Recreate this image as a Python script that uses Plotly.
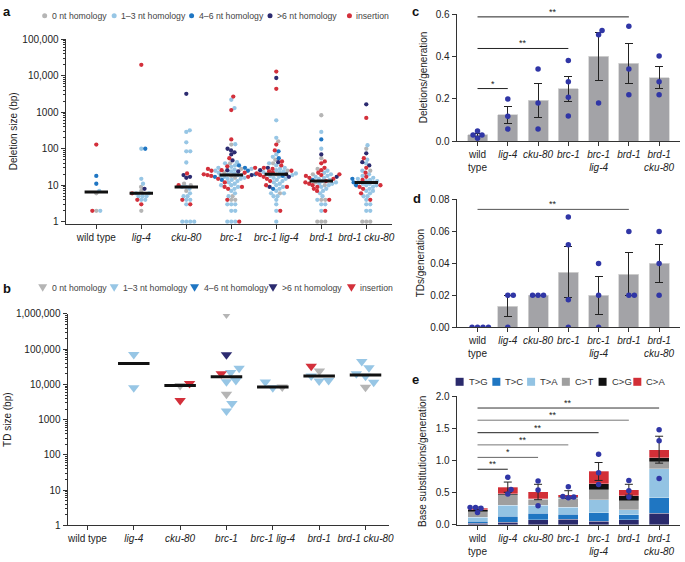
import numpy as np
import plotly.graph_objects as go

W, H = 685, 562
FONT = "Liberation Sans, Arial, Helvetica, sans-serif"

# ---------------- data ----------------
genotypes = ["wild type", "lig-4", "cku-80", "brc-1", "brc-1 lig-4", "brd-1", "brd-1 cku-80"]
labels_ab = ["wild type", "<i>lig-4</i>", "<i>cku-80</i>", "<i>brc-1</i>",
             "<i>brc-1 lig-4</i>", "<i>brd-1</i>", "<i>brd-1 cku-80</i>"]
labels_cde = ["wild<br>type", "<i>lig-4</i>", "<i>cku-80</i>", "<i>brc-1</i>",
              "<i>brc-1<br>lig-4</i>", "<i>brd-1</i>", "<i>brd-1<br>cku-80</i>"]

hom_names = ["0 nt homology", "1–3 nt homology", "4–6 nt homology", ">6 nt homology", "insertion"]
hom_colors = ["#b5b5b5", "#97c6e5", "#1f76c3", "#2c2b70", "#d3303b"]

# panel a: deletion sizes (bp), one list per genotype, per homology class
del_h0 = [[6, 2], [9, 7, 2], [11, 10, 7],
          [130, 40, 28, 22, 18, 16, 5, 4, 4],
          [160, 50, 40, 25, 20, 6],
          [830, 55, 28, 20, 12, 10, 4, 4, 1, 1, 1],
          [100, 25, 1, 1, 1]]
del_h13 = [[7, 2],
           [100, 15, 11, 6, 6, 5, 5, 5, 4, 4],
           [320, 290, 150, 85, 85, 42, 9, 9, 8, 6, 5, 5, 4, 4, 3, 1, 1, 1, 1],
           [2200, 1300, 133, 43, 40, 35, 32, 30, 28, 27, 25, 24, 22, 21, 20, 19, 19, 18, 17, 16,
            15, 15, 14, 13, 12, 11, 10, 10, 9, 8, 7, 6, 5, 3, 3, 3, 2, 2, 1, 1, 1],
           [600, 200, 70, 60, 40, 35, 30, 28, 26, 24, 23, 22, 21, 20, 19, 18, 17, 16, 15, 14,
            13, 12, 11, 10, 9, 8, 7, 6, 6, 5, 5, 4, 3, 2, 1],
           [290, 100, 25, 22, 20, 18, 17, 16, 15, 14, 13, 12, 11, 11, 10, 9, 8, 7, 6, 5, 4, 3, 3, 2],
           [125, 50, 40, 25, 20, 18, 16, 15, 14, 13, 13, 12, 12, 11, 11, 10, 10, 9, 8, 7, 7, 6,
            5, 5, 4, 3, 3, 2, 2]]
del_h46 = [[18, 11], [100], [], [35, 30, 25, 20, 17, 14], [85, 55, 18, 8], [180, 14], [15, 12, 10]]
del_h6 = [[], [8], [3200, 19, 17, 16], [100, 90, 80, 70, 48, 26, 24, 19],
          [8700, 43, 30, 26, 20, 17, 9], [70, 17], [1650, 75, 43, 35]]
del_ins = [[130, 2], [20000, 6, 4, 3], [21, 10, 4, 3],
           [2700, 1150, 180, 55, 33, 30, 28, 26, 25, 22, 20, 20, 19, 18, 17, 15, 12, 9, 9, 8, 4, 1],
           [13000, 4400, 130, 90, 45, 35, 30, 28, 25, 24, 22, 21, 19, 17, 15, 13, 10, 9, 2],
           [45, 40, 30, 26, 22, 20, 19, 18, 16, 15, 13, 12, 11, 10, 9, 8, 7, 4, 2],
           [700, 55, 30, 22, 17, 14, 10, 9, 8, 6, 4]]

# panel b: tandem duplication sizes (bp)
td_h0 = [[], [], [9300], [1000000, 5300], [8500], [24000], [8300]]
td_h13 = [[], [71000, 8100], [], [29000, 22000, 13000, 12000, 2900, 1750], [11800, 8000],
          [17400, 13000, 12500], [45000, 30000, 20000, 17000, 11500]]
td_h46 = [[], [], [], [], [], [], []]
td_h6 = [[], [], [], [70000], [], [], []]
td_ins = [[], [], [10600, 3500], [20000], [], [33000], []]

# panel c: deletions / generation
c_mean = [0.031, 0.125, 0.193, 0.247, 0.402, 0.368, 0.301]
c_sem = [0.006, 0.040, 0.082, 0.057, 0.113, 0.093, 0.053]
c_dots = [[0.049, 0.015, 0.03, 0.03], [0.20, 0.118, 0.058], [0.341, 0.181, 0.058],
          [0.381, 0.281, 0.208, 0.12], [0.523, 0.503, 0.181], [0.543, 0.341, 0.22],
          [0.403, 0.281, 0.22]]
c_sig_to = [1, 3, 5]
c_sig_y = [0.249, 0.438, 0.587]
c_sig_lab = ["*", "**", "**"]

# panel d: TDs / generation
d_mean = [0.0, 0.0133, 0.02, 0.0345, 0.02, 0.0333, 0.04]
d_sem = [0.0, 0.0067, 0.0, 0.0158, 0.0117, 0.0133, 0.0117]
d_dots = [[0, 0, 0, 0], [0.02, 0.02, 0], [0.02, 0.02, 0.02], [0.069, 0.0516, 0.0173, 0],
          [0.04, 0.02, 0], [0.06, 0.02, 0.02], [0.06, 0.04, 0.02]]
d_sig_to = [5]
d_sig_y = [0.0738]
d_sig_lab = ["**"]

# panel e: base substitutions / generation
sub_names = ["T>G", "T>C", "T>A", "C>T", "C>G", "C>A"]
sub_colors = ["#2a2a6c", "#1f76c2", "#93c3e3", "#9f9f9f", "#111111", "#d22f37"]
e_TG = [0.025, 0.04, 0.08, 0.085, 0.05, 0.08, 0.18]
e_TC = [0.03, 0.095, 0.10, 0.08, 0.14, 0.075, 0.24]
e_TA = [0.06, 0.17, 0.125, 0.105, 0.20, 0.075, 0.45]
e_CT = [0.09, 0.165, 0.09, 0.14, 0.155, 0.14, 0.11]
e_CG = [0.025, 0.015, 0.01, 0.015, 0.095, 0.085, 0.065]
e_CA = [0.025, 0.10, 0.105, 0.045, 0.19, 0.09, 0.125]
e_sem = [0.02, 0.08, 0.12, 0.06, 0.14, 0.085, 0.21]
e_dots = [[0.255, 0.27, 0.19, 0.27], [0.74, 0.55, 0.48], [0.68, 0.54, 0.295],
          [0.59, 0.44, 0.43, 0.42], [1.10, 0.81, 0.625], [0.69, 0.53, 0.43], [1.48, 1.31, 0.72]]
e_sig_to = [1, 2, 3, 4, 5, 6]
e_sig_y = [0.865, 1.05, 1.245, 1.435, 1.63, 1.82]
e_sig_lab = ["**", "*", "**", "**", "**", "**"]

# ---------------- geometry ----------------
def px_x(p):
    return p / W

def px_y(p):
    return 1 - p / H

A_X, A_Y = (66, 395), (34, 222.5)
B_X, B_Y = (68, 392), (314.7, 530.7)
C_X, C_Y = (460, 685), (8.3, 138.3)
D_X, D_Y = (460, 685), (197.7, 328.3)
E_X, E_Y = (460, 685), (399, 530)
A_XR, A_YR = [-0.684, 6.574], [-0.054, 5.0]
B_XR, B_YR = [-0.43, 6.51], [0, 6]
CDE_XR = [-0.69, 6.69]
C_YR, D_YR, E_YR = [0, 0.6], [0, 0.08], [0, 2.0]

def ppu(pxr, rng):
    return (pxr[1] - pxr[0]) / (rng[1] - rng[0])

def swarm(ypx, d, step=0.25, maxoff=120):
    ypx = np.asarray(ypx, dtype=float)
    order = np.argsort(ypx, kind="stable")
    cands = [0.0]
    k = 1
    while k * step <= maxoff:
        cands += [k * step, -k * step]
        k += 1
    placed = []
    offs = np.zeros(len(ypx))
    for i in order:
        y = ypx[i]
        near = [(px, py) for px, py in placed if abs(py - y) < d]
        for c in cands:
            if all((c - px) ** 2 + (y - py) ** 2 >= d * d - 1e-9 for px, py in near):
                offs[i] = c
                break
        placed.append((offs[i], y))
    return offs

fig = go.Figure()

# ---------------- panels a & b (swarm + median) ----------------
def swarm_panel(class_lists, xa, ya, xppu, yppd, d, size, symbol, line_half):
    xs = [[] for _ in class_lists]
    ys = [[] for _ in class_lists]
    med_x, med_y = [], []
    for g in range(len(genotypes)):
        vals, cls = [], []
        for k, cl in enumerate(class_lists):
            vals += cl[g]
            cls += [k] * len(cl[g])
        if not vals:
            continue
        offs = swarm(np.log10(vals) * yppd, d) / xppu
        for v, c, o in zip(vals, cls, offs):
            xs[c].append(g + o)
            ys[c].append(v)
        m = float(np.median(vals))
        med_x += [g - line_half, g + line_half, None]
        med_y += [m, m, None]
    for k in range(len(class_lists)):
        fig.add_trace(go.Scatter(x=xs[k], y=ys[k], mode="markers", xaxis=xa, yaxis=ya,
                                 marker=dict(size=size, color=hom_colors[k], symbol=symbol,
                                             line=dict(width=0)),
                                 showlegend=False, hoverinfo="skip"))
    fig.add_trace(go.Scatter(x=med_x, y=med_y, mode="lines", xaxis=xa, yaxis=ya,
                             line=dict(color="#111111", width=3), showlegend=False,
                             hoverinfo="skip"))

swarm_panel([del_h0, del_h13, del_h46, del_h6, del_ins], "x", "y",
            ppu(A_X, A_XR), ppu((A_Y[0], A_Y[1]), A_YR), 3.8, 4.3, "circle", 0.26)
swarm_panel([td_h0, td_h13, td_h46, td_h6, td_ins], "x2", "y2",
            ppu(B_X, B_XR), ppu((B_Y[0], B_Y[1]), B_YR), 9.5, 10, "triangle-down", 0.34)

# ---------------- bar panels ----------------
BAR_W = 0.66
DOT_COLOR = "#3036a6"

def dots_trace(dots, xa, ya, xppu, yppu):
    xs, ys = [], []
    for g, vals in enumerate(dots):
        offs = swarm(np.asarray(vals) * yppu, 5.5) / xppu
        xs += list(g + offs)
        ys += list(vals)
    fig.add_trace(go.Scatter(x=xs, y=ys, mode="markers", xaxis=xa, yaxis=ya,
                             marker=dict(size=5.5, color=DOT_COLOR, line=dict(width=0)),
                             showlegend=False, hoverinfo="skip"))

cats = list(range(len(genotypes)))
err_style = dict(type="data", visible=True, color="#222222", thickness=1, width=4)

fig.add_trace(go.Bar(x=cats, y=c_mean, width=BAR_W, xaxis="x3", yaxis="y3",
                     marker=dict(color="#a3a3a7", line=dict(color="#d4d4d4", width=0.8)),
                     error_y=dict(array=c_sem, **err_style), showlegend=False, hoverinfo="skip"))
dots_trace(c_dots, "x3", "y3", ppu(C_X, CDE_XR), ppu(C_Y, C_YR))

fig.add_trace(go.Bar(x=cats, y=d_mean, width=BAR_W, xaxis="x4", yaxis="y4",
                     marker=dict(color="#a3a3a7", line=dict(color="#d4d4d4", width=0.8)),
                     error_y=dict(array=d_sem, **err_style), showlegend=False, hoverinfo="skip"))
dots_trace(d_dots, "x4", "y4", ppu(D_X, CDE_XR), ppu(D_Y, D_YR))

e_series = [e_TG, e_TC, e_TA, e_CT, e_CG, e_CA]
for name, col, vals in zip(sub_names, sub_colors, e_series):
    fig.add_trace(go.Bar(x=cats, y=vals, width=BAR_W, xaxis="x5", yaxis="y5", name=name,
                         marker=dict(color=col, line=dict(color="rgba(255,255,255,0.6)", width=0.5)),
                         showlegend=False, hoverinfo="skip"))
e_total = np.sum(np.array(e_series), axis=0)
fig.add_trace(go.Scatter(x=cats, y=e_total, mode="markers", xaxis="x5", yaxis="y5",
                         marker=dict(size=1, color="rgba(0,0,0,0)"),
                         error_y=dict(array=e_sem, **err_style), showlegend=False, hoverinfo="skip"))
dots_trace(e_dots, "x5", "y5", ppu(E_X, CDE_XR), ppu(E_Y, E_YR))

# ---------------- axes ----------------
tickfont = dict(family=FONT, size=10, color="#222222")
base_axis = dict(showline=True, linecolor="#333333", linewidth=1, ticks="outside", ticklen=4,
                 tickcolor="#333333", tickwidth=1, showgrid=False, zeroline=False,
                 tickfont=tickfont, fixedrange=True)

def minor_vals(kmax):
    return [m * 10 ** k for k in range(kmax) for m in range(2, 10)]

def dom_x(p):
    return [px_x(p[0]), px_x(p[1])]

def dom_y(p):
    return [px_y(p[1]), px_y(p[0])]

layout_axes = dict(
    xaxis=dict(base_axis, domain=dom_x(A_X), range=A_XR, anchor="y", tickmode="array",
               tickvals=cats, ticktext=labels_ab, tickangle=0),
    yaxis=dict(base_axis, domain=dom_y(A_Y), range=A_YR, type="log", anchor="x",
               tickmode="array", tickvals=[1, 10, 100, 1000, 10000, 100000],
               ticktext=["1", "10", "100", "1000", "10,000", "100,000"],
               minor=dict(ticks="outside", ticklen=2, tickcolor="#333333", tickmode="array",
                          tickvals=minor_vals(5), showgrid=False)),
    xaxis2=dict(base_axis, domain=dom_x(B_X), range=B_XR, anchor="y2", tickmode="array",
                tickvals=cats, ticktext=labels_ab, tickangle=0),
    yaxis2=dict(base_axis, domain=dom_y(B_Y), range=B_YR, type="log", anchor="x2",
                tickmode="array", tickvals=[1, 10, 100, 1000, 10000, 100000, 1000000],
                ticktext=["1", "10", "100", "1000", "10,000", "100,000", "1,000,000"],
                minor=dict(ticks="outside", ticklen=2, tickcolor="#333333", tickmode="array",
                           tickvals=minor_vals(6), showgrid=False)),
    xaxis3=dict(base_axis, domain=dom_x(C_X), range=CDE_XR, anchor="y3", tickmode="array",
                tickvals=cats, ticktext=labels_cde, tickangle=0),
    yaxis3=dict(base_axis, domain=dom_y(C_Y), range=C_YR, anchor="x3", dtick=0.2,
                tickformat=".1f"),
    xaxis4=dict(base_axis, domain=dom_x(D_X), range=CDE_XR, anchor="y4", tickmode="array",
                tickvals=cats, ticktext=labels_cde, tickangle=0),
    yaxis4=dict(base_axis, domain=dom_y(D_Y), range=D_YR, anchor="x4", dtick=0.02,
                tickformat=".2f"),
    xaxis5=dict(base_axis, domain=dom_x(E_X), range=CDE_XR, anchor="y5", tickmode="array",
                tickvals=cats, ticktext=labels_cde, tickangle=0),
    yaxis5=dict(base_axis, domain=dom_y(E_Y), range=E_YR, anchor="x5", dtick=0.5,
                tickformat=".1f"),
)

# ---------------- annotations & shapes ----------------
ann = []
shapes = []

def text(x, y, s, size=10, color="#222222", angle=0, xanchor="center", bold=False):
    ann.append(dict(x=px_x(x), y=px_y(y), xref="paper", yref="paper", text=("<b>%s</b>" % s) if bold else s,
                    showarrow=False, textangle=angle, xanchor=xanchor, yanchor="middle",
                    font=dict(family=FONT, size=size, color=color)))

# panel letters
text(1, 6, "a", size=13, xanchor="left", bold=True, color="#111")
text(1, 289, "b", size=13, xanchor="left", bold=True, color="#111")
text(413, 6, "c", size=13, xanchor="left", bold=True, color="#111")
text(414, 197, "d", size=13, xanchor="left", bold=True, color="#111")
text(413, 382, "e", size=13, xanchor="left", bold=True, color="#111")

# axis titles
text(13, 128, "Deletion size (bp)", angle=-90)
text(8, 423, "TD size (bp)", angle=-90)
text(427, 73, "Deletions/generation", angle=-90)
text(423, 263, "TDs/generation", angle=-90)
text(425, 465, "Base substitutions/generation", angle=-90)

# legend a (dots)
leg_a_sym = [45, 115, 193, 272, 352]
for k, (sx, name) in enumerate(zip(leg_a_sym, hom_names)):
    shapes.append(dict(type="circle", xref="paper", yref="paper", xsizemode="pixel",
                       ysizemode="pixel", xanchor=px_x(sx), yanchor=px_y(10),
                       x0=-2.5, x1=2.5, y0=-2.5, y1=2.5, fillcolor=hom_colors[k],
                       line=dict(width=0)))
    text(sx + 5, 10, name, size=8.7, color="#444444", xanchor="left")

# legend b (triangles)
leg_b_sym = [43, 115, 196, 275, 354]
for k, (sx, name) in enumerate(zip(leg_b_sym, hom_names)):
    shapes.append(dict(type="path", xref="paper", yref="paper", xsizemode="pixel",
                       ysizemode="pixel", xanchor=px_x(sx), yanchor=px_y(288),
                       path="M -4.5,3.5 L 4.5,3.5 L 0,-4 Z", fillcolor=hom_colors[k],
                       line=dict(width=0)))
    text(sx + 7, 288, name, size=8.7, color="#444444", xanchor="left")

# legend e (squares)
leg_e_sym = [463, 500, 535, 570, 607, 642]
for k, (sx, name) in enumerate(zip(leg_e_sym, sub_names)):
    shapes.append(dict(type="rect", xref="paper", yref="paper", xsizemode="pixel",
                       ysizemode="pixel", xanchor=px_x(sx), yanchor=px_y(384),
                       x0=-4, x1=4, y0=-4, y1=4, fillcolor=sub_colors[k], line=dict(width=0)))
    text(sx + 7, 384, name, size=9.5, color="#333333", xanchor="left")

# significance brackets
def brackets(xa, ya, tos, ys, labs, colors):
    for t, yv, lab, col in zip(tos, ys, labs, colors):
        shapes.append(dict(type="line", xref=xa, yref=ya, x0=0, x1=t, y0=yv, y1=yv,
                           line=dict(color=col, width=1)))
        ann.append(dict(x=t / 2, y=yv, xref=xa, yref=ya, text=lab, showarrow=False,
                        yanchor="bottom", yshift=-2, font=dict(family=FONT, size=9, color="#222")))

brackets("x3", "y3", c_sig_to, c_sig_y, c_sig_lab, ["#222"] * 3)
brackets("x4", "y4", d_sig_to, d_sig_y, d_sig_lab, ["#555"])
brackets("x5", "y5", e_sig_to, e_sig_y, e_sig_lab,
         ["#222", "#666", "#777", "#222", "#777", "#333"])

fig.update_layout(
    width=W, height=H, margin=dict(l=0, r=0, t=0, b=0),
    paper_bgcolor="white", plot_bgcolor="white",
    barmode="stack", bargap=0.3, showlegend=False,
    font=dict(family=FONT, size=10, color="#222"),
    annotations=ann, shapes=shapes, hovermode=False,
    **layout_axes,
)

fig.write_html("out.html", config={"displayModeBar": False, "staticPlot": True},
               post_script="document.body.style.margin='0px';")
